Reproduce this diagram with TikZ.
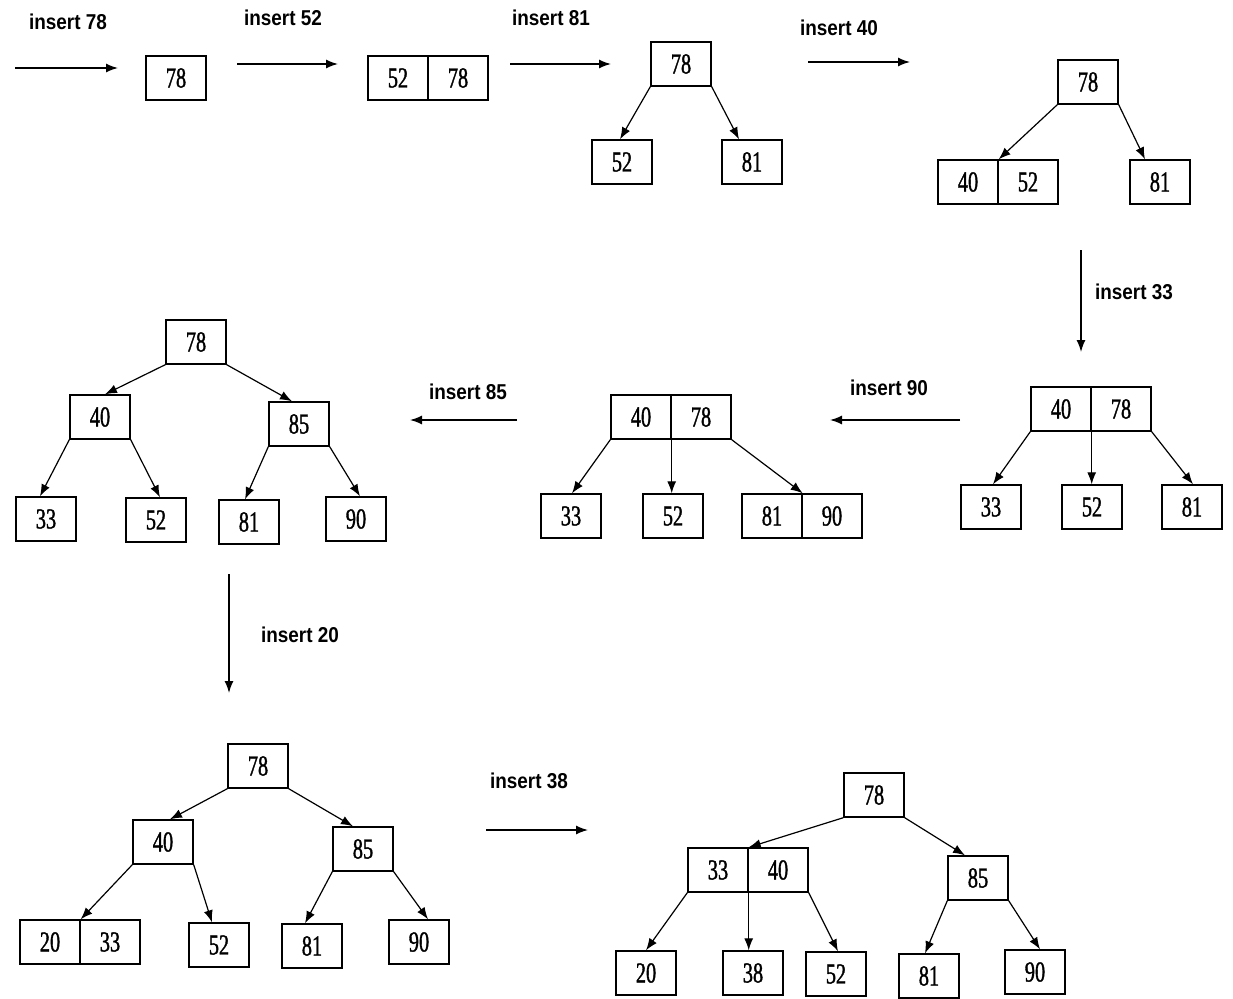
\documentclass[tikz,border=0pt]{standalone}
\usepackage{fontspec}
\usetikzlibrary{arrows.meta}
\newfontfamily\numfont[FakeStretch=0.7,FakeBold=1.2]{Liberation Serif}
\newfontfamily\labfont[FakeStretch=0.88]{Liberation Sans}
\tikzset{
  box/.style={draw=black, line width=1.4pt, minimum width=60pt, minimum height=44pt, inner sep=0pt, font=\numfont\fontsize{29}{29}\selectfont},
  lab/.style={font=\labfont\bfseries\fontsize{21.5}{21.5}\selectfont, inner sep=0pt},
  arr/.style={draw=black, line width=1.4pt, -{Latex[length=12pt,width=9pt]}},
  link/.style={draw=black, line width=1.2pt, -{Latex[length=12pt,width=9pt]}}
}
\begin{document}
\begin{tikzpicture}[x=1pt,y=-1pt]
\useasboundingbox (0,0) rectangle (1233,998);
% ---------- row 1 ----------
\node[lab] (l78) at (68,22) {insert 78};
\coordinate (a1s) at (15,68); \coordinate (a1e) at (118,68);
\draw[arr] (a1s) -- (a1e);
\node[box] (s1) at (176,78) {78};

\node[lab] (l52) at (283,18) {insert 52};
\coordinate (a2s) at (237,64); \coordinate (a2e) at (338,64);
\draw[arr] (a2s) -- (a2e);
\node[box] (s2a) at (398,78) {52};
\node[box] (s2b) at (458,78) {78};

\node[lab] (l81) at (551,18) {insert 81};
\coordinate (a3s) at (510,64); \coordinate (a3e) at (611,64);
\draw[arr] (a3s) -- (a3e);
\node[box] (s3r) at (681,64) {78};
\node[box] (s3l) at (622,162) {52};
\node[box] (s3c) at (752,162) {81};
\draw[link] (s3r.south west) -- (s3l.north -| 620,0);
\draw[link] (s3r.south east) -- (s3c.north -| 739,0);

\node[lab] (l40) at (839,28) {insert 40};
\coordinate (a4s) at (808,62); \coordinate (a4e) at (910,62);
\draw[arr] (a4s) -- (a4e);
\node[box] (s4r) at (1088,82) {78};
\node[box] (s4a) at (968,182) {40};
\node[box] (s4b) at (1028,182) {52};
\node[box] (s4c) at (1160,182) {81};
\draw[link] (s4r.south west) -- (s4a.north east);
\draw[link] (s4r.south east) -- (s4c.north -| 1145,0);

% ---------- insert 33 ----------
\node[lab] (l33) at (1134,292) {insert 33};
\coordinate (a5s) at (1081,250); \coordinate (a5e) at (1081,352);
\draw[arr] (a5s) -- (a5e);

\node[box] (s5a) at (1061,409) {40};
\node[box] (s5b) at (1121,409) {78};
\node[box] (s5c1) at (991,507) {33};
\node[box] (s5c2) at (1092,507) {52};
\node[box] (s5c3) at (1192,507) {81};
\draw[link] (s5a.south west) -- (s5c1.north -| 993,0);
\draw[link] (s5a.north east) -- (s5c2.north -| s5a.north east);
\draw[link] (s5b.south east) -- (s5c3.north -| 1193,0);

% ---------- insert 90 ----------
\node[lab] (l90) at (889,388) {insert 90};
\coordinate (a6s) at (960,420); \coordinate (a6e) at (830,420);
\draw[arr] (a6s) -- (a6e);

\node[box] (s6a) at (641,417) {40};
\node[box] (s6b) at (701,417) {78};
\node[box] (s6c1) at (571,516) {33};
\node[box] (s6c2) at (673,516) {52};
\node[box] (s6c3a) at (772,516) {81};
\node[box] (s6c3b) at (832,516) {90};
\draw[link] (s6a.south west) -- (s6c1.north -| 572,0);
\draw[link] (s6a.south east) -- (s6c2.north -| s6a.south east);
\draw[link] (s6b.south east) -- (s6c3a.north east);

% ---------- insert 85 ----------
\node[lab] (l85) at (468,392) {insert 85};
\coordinate (a7s) at (517,420); \coordinate (a7e) at (410,420);
\draw[arr] (a7s) -- (a7e);

\node[box] (s7r) at (196,342) {78};
\node[box] (s7l) at (100,417) {40};
\node[box] (s7m) at (299,424) {85};
\node[box] (s7c1) at (46,519) {33};
\node[box] (s7c2) at (156,520) {52};
\node[box] (s7c3) at (249,522) {81};
\node[box] (s7c4) at (356,519) {90};
\draw[link] (s7r.south west) -- (s7l.north -| 105,0);
\draw[link] (s7r.south east) -- (s7m.north -| 292,0);
\draw[link] (s7l.south west) -- (s7c1.north -| 40,0);
\draw[link] (s7l.south east) -- (s7c2.north -| 160,0);
\draw[link] (s7m.south west) -- (s7c3.north -| 245,0);
\draw[link] (s7m.south east) -- (s7c4.north -| 360,0);

% ---------- insert 20 ----------
\node[lab] (l20) at (300,635) {insert 20};
\coordinate (a8s) at (229,574); \coordinate (a8e) at (229,693);
\draw[arr] (a8s) -- (a8e);

\node[box] (s8r) at (258,766) {78};
\node[box] (s8l) at (163,842) {40};
\node[box] (s8m) at (363,849) {85};
\node[box] (s8c1a) at (50,942) {20};
\node[box] (s8c1b) at (110,942) {33};
\node[box] (s8c2) at (219,945) {52};
\node[box] (s8c3) at (312,946) {81};
\node[box] (s8c4) at (419,942) {90};
\draw[link] (s8r.south west) -- (s8l.north -| 170,0);
\draw[link] (s8r.south east) -- (s8m.north -| 353,0);
\draw[link] (s8l.south west) -- (s8c1a.north east);
\draw[link] (s8l.south east) -- (s8c2.north -| 212,0);
\draw[link] (s8m.south west) -- (s8c3.north -| 305,0);
\draw[link] (s8m.south east) -- (s8c4.north -| 428,0);

% ---------- insert 38 ----------
\node[lab] (l38) at (529,781) {insert 38};
\coordinate (a9s) at (486,830); \coordinate (a9e) at (588,830);
\draw[arr] (a9s) -- (a9e);

\node[box] (s9r) at (874,795) {78};
\node[box] (s9a) at (718,870) {33};
\node[box] (s9b) at (778,870) {40};
\node[box] (s9m) at (978,878) {85};
\node[box] (s9c1) at (646,973) {20};
\node[box] (s9c2) at (753,973) {38};
\node[box] (s9c3) at (836,974) {52};
\node[box] (s9c4) at (929,976) {81};
\node[box] (s9c5) at (1035,972) {90};
\draw[link] (s9r.south west) -- (s9a.north east);
\draw[link] (s9r.south east) -- (s9m.north -| 965,0);
\draw[link] (s9a.south west) -- (s9c1.north -| 646,0);
\draw[link] (s9a.north east) -- (s9c2.north -| s9a.north east);
\draw[link] (s9b.south east) -- (s9c3.north -| 838,0);
\draw[link] (s9m.south west) -- (s9c4.north -| 925,0);
\draw[link] (s9m.south east) -- (s9c5.north -| 1040,0);
\end{tikzpicture}
\end{document}
